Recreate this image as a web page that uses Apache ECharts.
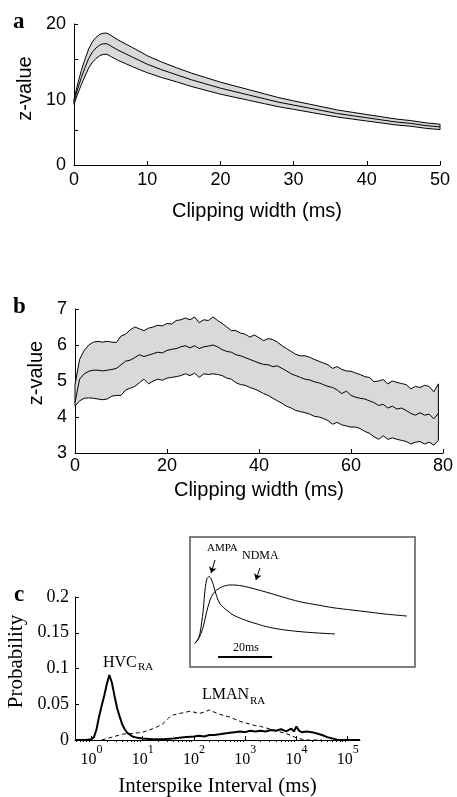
<!DOCTYPE html>
<html><head><meta charset="utf-8">
<script src="https://cdn.jsdelivr.net/npm/echarts@6/dist/echarts.min.js"></script>
<style>html,body{margin:0;padding:0;background:#fff}#c{width:457px;height:797px}</style>
</head><body><div id="c"></div>
<script>
// ---------- Panel a ----------
const clipA  = [0,0.5,1,1.5,2,2.5,3,3.5,4,4.5,5,6,7,8,9,10,12,14,16,18,20,22,24,26,28,30,32,34,36,38,40,42,44,46,48,50];
const meanA  = [9.0,10.8,12.4,13.8,15.1,16.0,16.6,17.0,17.2,17.2,16.9,16.3,15.8,15.3,14.8,14.3,13.5,12.8,12.1,11.5,10.9,10.4,9.9,9.4,8.9,8.5,8.1,7.7,7.3,7.0,6.7,6.4,6.1,5.9,5.6,5.4];
const upperA = [9.4,11.5,13.4,15.0,16.45,17.45,18.1,18.5,18.7,18.7,18.4,17.75,17.2,16.65,16.1,15.5,14.6,13.8,13.05,12.4,11.75,11.2,10.65,10.1,9.55,9.1,8.67,8.24,7.8,7.48,7.16,6.84,6.52,6.3,5.99,5.78];
const lowerA = [8.6,10.1,11.4,12.6,13.75,14.55,15.1,15.5,15.7,15.7,15.4,14.85,14.4,13.95,13.5,13.1,12.4,11.8,11.15,10.6,10.05,9.6,9.15,8.7,8.25,7.9,7.53,7.16,6.8,6.52,6.24,5.96,5.68,5.5,5.21,5.02];
const xTicksA = [0,10,20,30,40,50];
const yLabelsA = [0,10,20];

// ---------- Panel b ----------
const clipB = [0,1,2,3,4,5,6,7,8,9,10,11,12,13,14,15,16,17,18,19,20,21,22,23,24,25,26,27,28,29,30,31,32,33,34,35,36,37,38,39,40,41,42,43,44,45,46,47,48,49,50,51,52,53,54,55,56,57,58,59,60,61,62,63,64,65,66,67,68,69,70,71,72,73,74,75,76,77,78,79];
const upperB = [4.9,5.6,5.85,6.0,6.08,6.1,6.08,6.1,6.08,6.07, 6.25,6.3,6.42,6.5,6.45,6.4,6.47,6.5,6.55,6.53, 6.6,6.58,6.68,6.7,6.75,6.7,6.78,6.62,6.7,6.68, 6.78,6.68,6.6,6.5,6.4,6.4,6.33,6.3,6.22,6.28, 6.2,6.12,6.18,6.15,6.08,5.98,5.9,5.82,5.74,5.7, 5.7,5.66,5.6,5.55,5.5,5.45,5.35,5.4,5.32,5.28, 5.27,5.22,5.18,5.12,5.1,4.98,5.0,5.04,4.92,5.0, 4.96,4.93,4.9,4.78,4.85,4.82,4.88,4.85,4.7,4.92];
const meanB  = [4.4,5.05,5.2,5.27,5.3,5.3,5.28,5.3,5.32,5.35, 5.45,5.55,5.58,5.65,5.73,5.68,5.72,5.76,5.8,5.78, 5.85,5.88,5.9,5.95,5.98,5.92,5.98,5.9,5.95,5.97, 6.0,5.95,5.87,5.82,5.8,5.73,5.7,5.65,5.6,5.55, 5.5,5.46,5.45,5.4,5.42,5.35,5.28,5.2,5.15,5.1, 5.05,5.03,4.98,4.95,4.9,4.85,4.82,4.75,4.65,4.72, 4.6,4.55,4.52,4.5,4.45,4.4,4.32,4.35,4.25,4.3, 4.22,4.25,4.18,4.1,4.05,4.12,4.05,4.08,3.95,4.1];
const lowerB = [4.3,4.45,4.52,4.53,4.52,4.5,4.48,4.5,4.58,4.6, 4.6,4.75,4.8,4.85,4.95,5.05,4.92,5.0,5.05,5.02, 5.08,5.1,5.12,5.15,5.2,5.15,5.22,5.1,5.2,5.18, 5.2,5.18,5.15,5.08,5.05,4.95,4.9,4.88,4.82,4.78, 4.72,4.65,4.6,4.52,4.45,4.38,4.3,4.25,4.18,4.15, 4.12,4.08,4.02,4.0,3.96,3.9,3.8,3.85,3.78,3.75, 3.72,3.72,3.68,3.6,3.55,3.45,3.38,3.48,3.38,3.42, 3.38,3.35,3.32,3.25,3.3,3.32,3.25,3.3,3.22,3.35];

// ---------- Panel c (ISI in log10 ms) ----------
const hvcLogIsi = [-0.32,-0.1,0,0.05,0.1,0.15,0.2,0.25,0.3,0.35,0.4,0.45,0.5,0.55,0.6,0.65,0.7,0.8,0.9,1.0,1.2,1.4,1.6,1.8,2.0,2.1,2.2,2.3,2.4,2.5,2.6,2.7,2.8,2.9,3.0,3.1,3.2,3.3,3.4,3.5,3.6,3.7,3.8,3.9,3.95,4.0,4.05,4.1,4.2,4.3,4.4,4.5,4.6,4.7,4.8,4.9,5.24];
const hvcProb   = [0,0,0.001,0.004,0.015,0.033,0.048,0.062,0.078,0.091,0.080,0.062,0.045,0.033,0.022,0.015,0.010,0.005,0.003,0.002,0.001,0.001,0.002,0.004,0.005,0.006,0.005,0.007,0.007,0.008,0.009,0.010,0.011,0.012,0.011,0.013,0.012,0.013,0.012,0.014,0.013,0.015,0.012,0.016,0.012,0.019,0.013,0.011,0.012,0.011,0.009,0.007,0.004,0.002,0.0005,0,0];
const lmanLogIsi = [0.2,0.3,0.4,0.5,0.6,0.7,0.8,0.9,1.0,1.1,1.2,1.3,1.4,1.5,1.55,1.6,1.7,1.8,1.9,2.0,2.1,2.2,2.3,2.35,2.4,2.5,2.6,2.7,2.8,2.9,3.0,3.1,3.2,3.3,3.4,3.5,3.6,3.7,3.8,3.9,4.0,4.1,4.2,4.5];
const lmanProb   = [0,0.002,0.004,0.006,0.008,0.009,0.009,0.010,0.011,0.013,0.016,0.019,0.023,0.030,0.034,0.035,0.037,0.038,0.040,0.039,0.037,0.039,0.042,0.040,0.039,0.036,0.034,0.032,0.029,0.026,0.024,0.022,0.020,0.019,0.017,0.015,0.013,0.011,0.009,0.006,0.003,0.001,0,0];
const xDecadesC = [0,1,2,3,4,5];

// ---------- Inset (time in ms, arbitrary amplitude) ----------
const ampaT = [1.85,3.0,3.7,4.3,4.9,5.6,6.3,7.1,7.8,8.6,9.9,11,12.3,14,16,19,22.2,28.4,34,40.7,47,53.7];
const ampaV = [0.182,0.215,0.259,0.34,0.438,0.6,0.68,0.695,0.68,0.635,0.541,0.49,0.46,0.43,0.4,0.372,0.348,0.31,0.288,0.272,0.262,0.254];
const nmdaT = [1.85,3.5,4.9,6,7.4,8.6,9.9,12,14.8,17,19.7,24,28.4,34,40.7,47,53,60,65.4,72,80.3];
const nmdaV = [0.182,0.23,0.31,0.41,0.515,0.565,0.592,0.618,0.631,0.63,0.622,0.6,0.575,0.54,0.502,0.478,0.456,0.438,0.425,0.408,0.392];
const scaleBarStart = 10.4, scaleBarMs = 20, scaleBarLevel = 0.077;
const arrowAmpa = [[9.26,0.823],[7.8,0.723]];
const arrowNmda = [[25.9,0.762],[24.4,0.669]];

// ---------- build ----------
const zip = (xs, ys) => xs.map((x, i) => [x, ys[i]]);
const SANS = 'Liberation Sans', SERIF = 'Liberation Serif';
const lineBlack = {color:'#000', width:1};

function ax(font, size, extra) {
  return Object.assign({
    axisLine:{show:true, onZero:false, lineStyle:{color:'#000', width:1}},
    axisTick:{show:true, inside:true, length:4, lineStyle:{color:'#000', width:1}},
    splitLine:{show:false},
    axisLabel:{color:'#000', fontFamily:font, fontSize:size},
    nameTextStyle:{color:'#000', fontFamily:font}
  }, extra);
}

function bandSeries(xi, yi, xs, lo, hi, mean) {
  const n = xs.length - 1;
  const line = (data, z) => ({type:'line', xAxisIndex:xi, yAxisIndex:yi, data, symbol:'none', lineStyle:lineBlack, z});
  return [
    {type:'custom', xAxisIndex:xi, yAxisIndex:yi, data:[[xs[0], lo[0]]], z:2,
      renderItem:(params, api) => {
        const pts = [];
        for (let i = 0; i <= n; i++) pts.push(api.coord([xs[i], hi[i]]));
        for (let i = n; i >= 0; i--) pts.push(api.coord([xs[i], lo[i]]));
        return {type:'polygon', shape:{points:pts}, style:{fill:'#d9d9d9', stroke:null}};
      }},
    line(zip(xs, lo), 3),
    line(zip(xs, hi), 3),
    line(zip(xs, mean), 4),
    line([[xs[0],lo[0]],[xs[0],hi[0]]], 4),
    line([[xs[n],lo[n]],[xs[n],hi[n]]], 4)
  ];
}

const minorC = [];
for (let k = -1; k <= 5; k++) for (let m = 2; m <= 9; m++) {
  const v = k + Math.log10(m);
  if (v > -0.32 && v < 5.24) minorC.push(+v.toFixed(4));
}

const option = {
  animation:false,
  backgroundColor:'#fff',
  grid:[
    {left:74, top:24, width:366, height:141, containLabel:false, outerBoundsMode:'none'},
    {left:75, top:309, width:368, height:144, containLabel:false, outerBoundsMode:'none'},
    {left:75, top:597, width:285, height:143, containLabel:false, outerBoundsMode:'none'},
    {left:190, top:537, width:225, height:130, show:true, backgroundColor:'#fff', borderColor:'#555', borderWidth:1.5, z:5, outerBoundsMode:'none'}
  ],
  xAxis:[
    ax(SANS, 18, {type:'value', gridIndex:0, min:0, max:50, interval:10,
      name:'Clipping width (ms)', nameLocation:'middle', nameGap:36,
      nameTextStyle:{color:'#000', fontFamily:SANS, fontSize:20},
      axisLabel:{color:'#000', fontFamily:SANS, fontSize:18, margin:6, customValues:xTicksA}}),
    ax(SANS, 18, {type:'value', gridIndex:1, min:0, max:80, interval:20,
      name:'Clipping width (ms)', nameLocation:'middle', nameGap:27,
      nameTextStyle:{color:'#000', fontFamily:SANS, fontSize:20},
      axisLabel:{color:'#000', fontFamily:SANS, fontSize:18, margin:4}}),
    ax(SERIF, 16, {type:'value', gridIndex:2, min:-0.32, max:5.24,
      name:'Interspike Interval (ms)', nameLocation:'middle', nameGap:36,
      nameTextStyle:{color:'#000', fontFamily:SERIF, fontSize:21},
      axisTick:{show:true, inside:true, length:4, customValues:xDecadesC, lineStyle:{color:'#000'}},
      axisLabel:{color:'#000', fontFamily:SERIF, margin:4, customValues:xDecadesC,
        formatter:v => '{b|10}{e|' + Math.round(v) + '}',
        rich:{b:{fontFamily:SERIF, fontSize:16, lineHeight:24, verticalAlign:'bottom', color:'#000'},
              e:{fontFamily:SERIF, fontSize:12, lineHeight:13, verticalAlign:'top', color:'#000'}}}}),
    {type:'value', gridIndex:2, min:-0.32, max:5.24, axisLine:{show:false}, splitLine:{show:false},
      axisLabel:{show:false}, axisTick:{show:true, inside:true, length:2, customValues:minorC, lineStyle:{color:'#000'}}},
    {type:'value', gridIndex:3, min:0, max:83.3, show:false}
  ],
  yAxis:[
    ax(SANS, 18, {type:'value', gridIndex:0, min:0, max:20, interval:5,
      name:'z-value', nameLocation:'middle', nameGap:27,
      nameTextStyle:{color:'#000', fontFamily:SANS, fontSize:20, padding:[0,0,0,12]},
      axisLabel:{color:'#000', fontFamily:SANS, fontSize:18, margin:8,
        formatter:v => yLabelsA.includes(v) ? (v === 10 ? '{low|10}' : String(v)) : '',
        rich:{low:{fontFamily:SANS, fontSize:18, color:'#000', padding:[12,0,0,0]}}}}),
    ax(SANS, 18, {type:'value', gridIndex:1, min:3, max:7, interval:1,
      name:'z-value', nameLocation:'middle', nameGap:29,
      nameTextStyle:{color:'#000', fontFamily:SANS, fontSize:20, padding:[0,0,0,16]},
      axisLabel:{color:'#000', fontFamily:SANS, fontSize:18, margin:8}}),
    ax(SERIF, 18, {type:'value', gridIndex:2, min:0, max:0.2, interval:0.05,
      name:'Probability', nameLocation:'middle', nameGap:45,
      nameTextStyle:{color:'#000', fontFamily:SERIF, fontSize:21, padding:[0,0,0,14]},
      axisLabel:{color:'#000', fontFamily:SERIF, fontSize:18, margin:6}}),
    {type:'value', gridIndex:3, min:0, max:1, show:false}
  ],
  series:[
    ...bandSeries(0, 0, clipA, lowerA, upperA, meanA),
    ...bandSeries(1, 1, clipB, lowerB, upperB, meanB),
    {type:'line', xAxisIndex:2, yAxisIndex:2, data:zip(lmanLogIsi, lmanProb), symbol:'none',
      lineStyle:{color:'#000', width:1, type:[4,3]}, z:3},
    {type:'line', xAxisIndex:2, yAxisIndex:2, data:zip(hvcLogIsi, hvcProb), symbol:'none',
      lineStyle:{color:'#000', width:2}, z:4},
    {type:'line', xAxisIndex:4, yAxisIndex:3, data:zip(ampaT, ampaV), symbol:'none', smooth:0.3,
      lineStyle:{color:'#000', width:1}, z:10,
      markLine:{silent:true, symbol:['none','arrow'], symbolSize:6, label:{show:false},
        lineStyle:{color:'#000', width:1, type:'solid'},
        data:[[{coord:arrowAmpa[0]},{coord:arrowAmpa[1]}],[{coord:arrowNmda[0]},{coord:arrowNmda[1]}]]}},
    {type:'line', xAxisIndex:4, yAxisIndex:3, data:zip(nmdaT, nmdaV), symbol:'none', smooth:0.3,
      lineStyle:{color:'#000', width:1}, z:10},
    {type:'line', xAxisIndex:4, yAxisIndex:3, data:[[scaleBarStart, scaleBarLevel],[scaleBarStart+scaleBarMs, scaleBarLevel]],
      symbol:'none', lineStyle:{color:'#000', width:2}, z:10}
  ],
  graphic:[
    {type:'text', left:13, top:11, z:20, style:{text:'a', font:'bold 23px "Liberation Serif"', fill:'#000'}},
    {type:'text', left:13, top:296, z:20, style:{text:'b', font:'bold 23px "Liberation Serif"', fill:'#000'}},
    {type:'text', left:14, top:584, z:20, style:{text:'c', font:'bold 23px "Liberation Serif"', fill:'#000'}},
    {type:'text', left:103, top:655, z:20, style:{text:'HVC', font:'16px "Liberation Serif"', fill:'#000'}},
    {type:'text', left:138, top:662, z:20, style:{text:'RA', font:'11px "Liberation Serif"', fill:'#000'}},
    {type:'text', left:202, top:687, z:20, style:{text:'LMAN', font:'16px "Liberation Serif"', fill:'#000'}},
    {type:'text', left:250, top:696, z:20, style:{text:'RA', font:'11px "Liberation Serif"', fill:'#000'}},
    {type:'text', left:207, top:543, z:20, style:{text:'AMPA', font:'11px "Liberation Serif"', fill:'#000'}},
    {type:'text', left:242, top:550, z:20, style:{text:'NDMA', font:'12px "Liberation Serif"', fill:'#000'}},
    {type:'text', left:233, top:642, z:20, style:{text:'20ms', font:'12px "Liberation Serif"', fill:'#000'}}
  ]
};
const chart = echarts.init(document.getElementById('c'), null, {renderer:'canvas'});
chart.setOption(option);
</script></body></html>
